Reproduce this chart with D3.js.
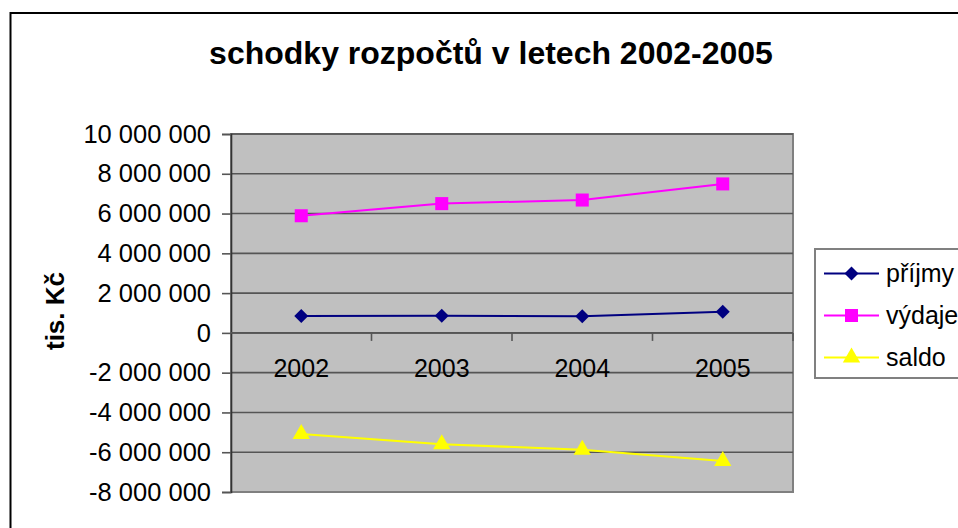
<!DOCTYPE html>
<html><head><meta charset="utf-8">
<script src="https://cdn.jsdelivr.net/npm/d3@7"></script>
<style>
html,body{margin:0;padding:0;background:#fff;}
svg{display:block;font-family:"Liberation Sans",Arial,sans-serif;}
</style></head>
<body><svg id="c" width="958" height="528"></svg>
<script>
const title = "schodky rozpočtů v letech 2002-2005";
const yTitle = "tis. Kč";
const years = ["2002","2003","2004","2005"];
const prijmy = [850000, 860000, 840000, 1060000];
const vydaje = [5890000, 6500000, 6680000, 7490000];
const saldo = [-5080000, -5600000, -5870000, -6440000];
const yTicks = [10000000,8000000,6000000,4000000,2000000,0,-2000000,-4000000,-6000000,-8000000];
const seriesNames = ["příjmy","výdaje","saldo"];
const seriesColors = ["#000080","#FF00FF","#FFFF00"];

// wide diamond symbol (square rotated 45°)
const wideDiamond = {draw(ctx, size){ const r = Math.sqrt(size/2);
  ctx.moveTo(0,-r); ctx.lineTo(r,0); ctx.lineTo(0,r); ctx.lineTo(-r,0); ctx.closePath(); }};
const seriesSymbols = [wideDiamond, d3.symbolSquare, d3.symbolTriangle];
const seriesSizes = [98, 170, 130];

const svg = d3.select("#c");
const P = {l:231, t:134, r:793, b:492};

// outer border
svg.append("rect").attr("x",10.5).attr("y",13).attr("width",970).attr("height",540)
  .attr("fill","#fff").attr("stroke","#000").attr("stroke-width",2);

svg.append("text").attr("x",491).attr("y",64).attr("text-anchor","middle")
  .attr("font-size",32).attr("font-weight","bold").text(title);

const y = d3.scaleLinear().domain([-8000000,10000000]).range([P.b,P.t]);
const x = d3.scaleBand().domain(years).range([P.l,P.r]).padding(0);
const cx = d => x(d) + x.bandwidth()/2;

// plot area
svg.append("rect").attr("x",P.l).attr("y",P.t).attr("width",P.r-P.l).attr("height",P.b-P.t)
  .attr("fill","#C0C0C0").attr("stroke","#808080").attr("stroke-width",2);

// gridlines
svg.append("g").selectAll("line").data(yTicks.filter(v=>v!==-8000000)).join("line")
  .attr("x1",P.l).attr("x2",P.r).attr("y1",d=>y(d)).attr("y2",d=>y(d))
  .attr("stroke","#555").attr("stroke-width",1.6);

const loc = d3.formatLocale({decimal:",",thousands:"\u00a0",grouping:[3],currency:["",""],minus:"-"});
const fmt = loc.format(",d");

// y axis
const ya = svg.append("g").attr("transform",`translate(${P.l},0)`)
  .call(d3.axisLeft(y).tickValues(yTicks).tickFormat(fmt).tickSize(9).tickPadding(11));
ya.select(".domain").attr("stroke","#333").attr("stroke-width",1.6);
ya.selectAll(".tick line").attr("stroke","#555").attr("stroke-width",1.6);
ya.selectAll(".tick text").attr("font-size",25.5).attr("fill","#000")
  .attr("font-family","Liberation Sans, Arial, sans-serif");

// x axis at zero
const y0 = y(0);
svg.append("line").attr("x1",P.l).attr("x2",P.r).attr("y1",y0).attr("y2",y0)
  .attr("stroke","#555").attr("stroke-width",1.6);
svg.append("g").selectAll("line").data(years).join("line")
  .attr("x1",d=>x(d)+x.bandwidth()).attr("x2",d=>x(d)+x.bandwidth())
  .attr("y1",y0).attr("y2",y0+8).attr("stroke","#555").attr("stroke-width",1.6);
svg.append("g").selectAll("text").data(years).join("text")
  .attr("x",d=>cx(d)).attr("y",y0+44).attr("text-anchor","middle")
  .attr("font-size",25).text(d=>d);

// y title
svg.append("text").attr("transform","translate(64,311) rotate(-90)")
  .attr("text-anchor","middle").attr("font-size",26).attr("font-weight","bold").text(yTitle);

// series
const data = [prijmy, vydaje, saldo];
const line = d3.line().x((d,i)=>cx(years[i])).y(d=>y(d));
data.forEach((vals,k)=>{
  svg.append("path").datum(vals).attr("d",line).attr("fill","none")
    .attr("stroke",seriesColors[k]).attr("stroke-width",2);
  svg.append("g").selectAll("path").data(vals).join("path")
    .attr("transform",(d,i)=>`translate(${cx(years[i])},${y(d)})`)
    .attr("d",d3.symbol().type(seriesSymbols[k]).size(seriesSizes[k]))
    .attr("fill",seriesColors[k]);
});

// legend
const lg = svg.append("g");
lg.append("rect").attr("x",815).attr("y",249).attr("width",160).attr("height",129)
  .attr("fill","#fff").attr("stroke","#808080").attr("stroke-width",2);
const ly = [273.5, 315.5, 357.5];
seriesNames.forEach((n,k)=>{
  lg.append("line").attr("x1",824).attr("x2",879).attr("y1",ly[k]).attr("y2",ly[k])
    .attr("stroke",seriesColors[k]).attr("stroke-width",2);
  lg.append("path").attr("transform",`translate(851.5,${ly[k]})`)
    .attr("d",d3.symbol().type(seriesSymbols[k]).size(seriesSizes[k])).attr("fill",seriesColors[k]);
  lg.append("text").attr("x",886).attr("y",ly[k]+8.5).attr("font-size",25).text(n);
});
</script></body></html>
